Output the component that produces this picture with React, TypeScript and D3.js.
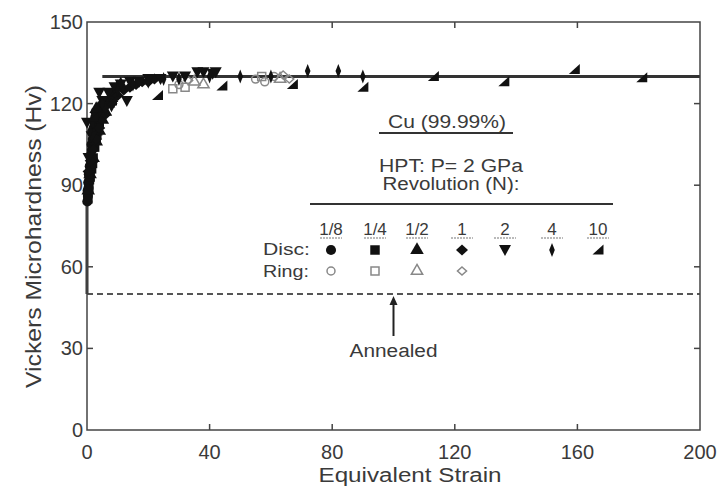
import React from "react";
import * as d3 from "d3";

// ---- data: [equivalent strain, Hv] ----
const disc18: [number, number][] = [
  [0.1, 84], [0.3, 86], [0.2, 88], [0.5, 89], [0.4, 91], [0.8, 92], [0.6, 94], [1.0, 95], [0.9, 97],
  [1.3, 99], [1.2, 101], [1.6, 103], [1.5, 105], [1.9, 107], [2.0, 109], [2.3, 111], [2.5, 113], [2.7, 115], [2.9, 117],
];
const disc14: [number, number][] = [
  [0.3, 85], [0.6, 89], [0.8, 92], [1.0, 93], [1.5, 96], [1.8, 98], [2.0, 100], [2.5, 104], [3.0, 107],
  [3.2, 109], [3.5, 110], [4.0, 113], [4.5, 116], [5.0, 119], [5.5, 121],
];
const disc12: [number, number][] = [
  [0.4, 88], [1, 94], [2, 100], [3, 106], [3, 118], [4, 110], [5, 114], [6, 117], [7, 120], [8, 122], [9, 124], [10, 126], [11, 127],
];
const disc1: [number, number][] = [
  [0.5, 95], [1.2, 99], [2, 103], [3, 107], [4, 111], [5, 120], [6, 116], [8, 120], [10, 123], [12, 125], [14, 126], [16, 127],
  [18, 128], [20, 128], [22, 129],
];
const disc2: [number, number][] = [
  [0, 113], [0.5, 100], [1.5, 108], [3, 115], [4, 124], [5, 121], [6, 118], [7, 124], [8, 119], [9, 126], [11, 127], [13, 121], [14, 128],
  [17, 128], [20, 129], [24, 129], [28, 130], [32, 130], [36, 131.5], [38, 131.5], [41, 131], [42, 131.5],
];
const disc4: [number, number][] = [
  [1, 110], [5, 120], [10, 125], [15, 127], [20, 128], [25, 129], [30, 129], [40, 130], [50, 130], [60, 130],
  [72, 132], [82, 132], [90, 130],
];
const disc10: [number, number][] = [
  [2, 115], [8, 121], [23, 123], [44, 126.5], [67, 127], [90, 126], [113, 130], [136, 128], [159, 132.5], [181, 129.5],
];
const ring18: [number, number][] = [[55, 129], [58, 128], [61, 130], [30, 127]];
const ring14: [number, number][] = [[32, 126], [57, 130], [28, 125.5]];
const ring12: [number, number][] = [[35, 128], [38, 127], [63, 129]];
const ring1: [number, number][] = [[64, 130.5], [66, 129], [33, 128.5]];

const revLabels = ["1/8", "1/4", "1/2", "1", "2", "4", "10"];
const xTicks = [0, 40, 80, 120, 160, 200];
const yTicks = [0, 30, 60, 90, 120, 150];
const saturationHv = 130;
const annealedHv = 50;

// ---- marker shapes ----
const circlePath = d3.symbol(d3.symbolCircle, 80)()!;
const squarePath = d3.symbol(d3.symbolSquare, 90)()!;
const triPath = d3.symbol(d3.symbolTriangle, 80)()!;
const diamondPath = "M0,-5.5L6,0L0,5.5L-6,0Z";
const triDownPath = "M-6,-5L6,-5L0,6Z";
const thinDiamondPath = "M0,-7L2.8,0L0,7L-2.8,0Z";
const wedgePath = "M5.5,-5.5L5.5,4.5L-5.5,4.5Z";

const discShapes = [circlePath, squarePath, triPath, diamondPath, triDownPath, thinDiamondPath, wedgePath];
const ringShapes = [
  d3.symbol(d3.symbolCircle, 50)()!,
  d3.symbol(d3.symbolSquare, 64)()!,
  d3.symbol(d3.symbolTriangle, 55)()!,
  "M0,-4L4.5,0L0,4L-4.5,0Z",
];
const discSeries = [disc18, disc14, disc12, disc1, disc2, disc4, disc10];
const ringSeries = [ring18, ring14, ring12, ring1];

export default function App() {
  const x = d3.scaleLinear().domain([0, 200]).range([87, 700]);
  const y = d3.scaleLinear().domain([0, 150]).range([430, 22]);
  const axisColor = "#444";
  const textColor = "#3a3a3a";
  const font = "Liberation Sans, Arial, sans-serif";
  const legendX = [331, 375, 417, 462, 505, 552, 598];

  return (
    <svg width={718} height={486} style={{ position: "absolute", left: 0, top: 0, background: "#fff" }} fontFamily={font}>
      <rect x={0} y={0} width={718} height={486} fill="#fff" />
      {/* annealed dashed line */}
      <line x1={x(0)} x2={x(200)} y1={y(annealedHv)} y2={y(annealedHv)} stroke="#555" strokeWidth={2} strokeDasharray="6,4" />
      {/* saturation line */}
      <line x1={x(5)} x2={x(200)} y1={y(saturationHv)} y2={y(saturationHv)} stroke="#333" strokeWidth={3} />
      {/* thick left segment */}
      <line x1={x(0)} x2={x(0)} y1={y(annealedHv)} y2={y(83)} stroke="#333" strokeWidth={3} />
      {/* frame */}
      <rect x={x(0)} y={y(150)} width={x(200) - x(0)} height={y(0) - y(150)} fill="none" stroke={axisColor} strokeWidth={1.5} />
      {/* ticks */}
      {xTicks.slice(1, -1).map((t) => (
        <g key={"xt" + t}>
          <line x1={x(t)} x2={x(t)} y1={y(0)} y2={y(0) - 6} stroke={axisColor} strokeWidth={1.5} />
          <line x1={x(t)} x2={x(t)} y1={y(150)} y2={y(150) + 6} stroke={axisColor} strokeWidth={1.5} />
        </g>
      ))}
      {yTicks.slice(1, -1).map((t) => (
        <g key={"yt" + t}>
          <line x1={x(0)} x2={x(0) + 6} y1={y(t)} y2={y(t)} stroke={axisColor} strokeWidth={1.5} />
          <line x1={x(200)} x2={x(200) - 6} y1={y(t)} y2={y(t)} stroke={axisColor} strokeWidth={1.5} />
        </g>
      ))}
      {/* tick labels */}
      {xTicks.map((t) => (
        <text key={"xl" + t} x={x(t)} y={459} fontSize={20} fill={textColor} textAnchor="middle">
          {t}
        </text>
      ))}
      {yTicks.map((t) => (
        <text key={"yl" + t} x={83} y={y(t) + 7} fontSize={20} fill={textColor} textAnchor="end">
          {t}
        </text>
      ))}
      {/* axis titles */}
      <text x={410} y={482} fontSize={20} fill={textColor} textAnchor="middle" textLength={183} lengthAdjust="spacingAndGlyphs">
        Equivalent Strain
      </text>
      <text
        transform={`translate(41,${(85 + 388) / 2}) rotate(-90)`}
        fontSize={22}
        fill={textColor}
        textAnchor="middle"
        textLength={303}
        lengthAdjust="spacingAndGlyphs"
      >
        Vickers Microhardness (Hv)
      </text>

      {/* ring data */}
      {ringSeries.map((s, i) =>
        s.map((d, j) => (
          <path key={`r${i}-${j}`} d={ringShapes[i]} transform={`translate(${x(d[0])},${y(d[1])})`} fill="none" stroke="#888" strokeWidth={1.5} />
        ))
      )}
      {/* disc data */}
      {discSeries.map((s, i) =>
        s.map((d, j) => (
          <path key={`d${i}-${j}`} d={discShapes[i]} transform={`translate(${x(d[0])},${y(d[1])})`} fill="#111" />
        ))
      )}

      {/* legend */}
      <text x={447} y={128} fontSize={18} fill={textColor} textAnchor="middle" textLength={118} lengthAdjust="spacingAndGlyphs">
        Cu (99.99%)
      </text>
      <line x1={379} x2={513} y1={133} y2={133} stroke="#333" strokeWidth={2} />
      <text x={451} y={172} fontSize={18} fill={textColor} textAnchor="middle" textLength={144} lengthAdjust="spacingAndGlyphs">
        HPT: P= 2 GPa
      </text>
      <text x={451} y={190} fontSize={18} fill={textColor} textAnchor="middle" textLength={137} lengthAdjust="spacingAndGlyphs">
        Revolution (N):
      </text>
      <line x1={310} x2={613} y1={204} y2={204} stroke="#333" strokeWidth={2} />
      {revLabels.map((l, i) => (
        <g key={"lg" + l}>
          <text x={legendX[i]} y={235} fontSize={17} fill={textColor} textAnchor="middle">
            {l}
          </text>
          <line x1={legendX[i] - 11} x2={legendX[i] + 11} y1={238} y2={238} stroke="#777" strokeWidth={1.2} strokeDasharray="2,1" />
          <path d={discShapes[i]} transform={`translate(${legendX[i]},${250})`} fill="#111" />
        </g>
      ))}
      {ringShapes.map((p, i) => (
        <path key={"lr" + i} d={p} transform={`translate(${legendX[i]},${271})`} fill="none" stroke="#888" strokeWidth={1.5} />
      ))}
      <text x={263} y={255} fontSize={17} fill={textColor} textLength={47} lengthAdjust="spacingAndGlyphs">
        Disc:
      </text>
      <text x={263} y={277} fontSize={17} fill={textColor} textLength={46} lengthAdjust="spacingAndGlyphs">
        Ring:
      </text>

      {/* annealed arrow */}
      <line x1={x(100)} x2={x(100)} y1={336} y2={y(annealedHv) + 8} stroke="#222" strokeWidth={2} />
      <path d={`M${x(100)},${y(annealedHv) + 2}L${x(100) - 4},${y(annealedHv) + 11}L${x(100) + 4},${y(annealedHv) + 11}Z`} fill="#222" />
      <text x={x(100)} y={357} fontSize={18} fill={textColor} textAnchor="middle" textLength={88} lengthAdjust="spacingAndGlyphs">
        Annealed
      </text>
    </svg>
  );
}
